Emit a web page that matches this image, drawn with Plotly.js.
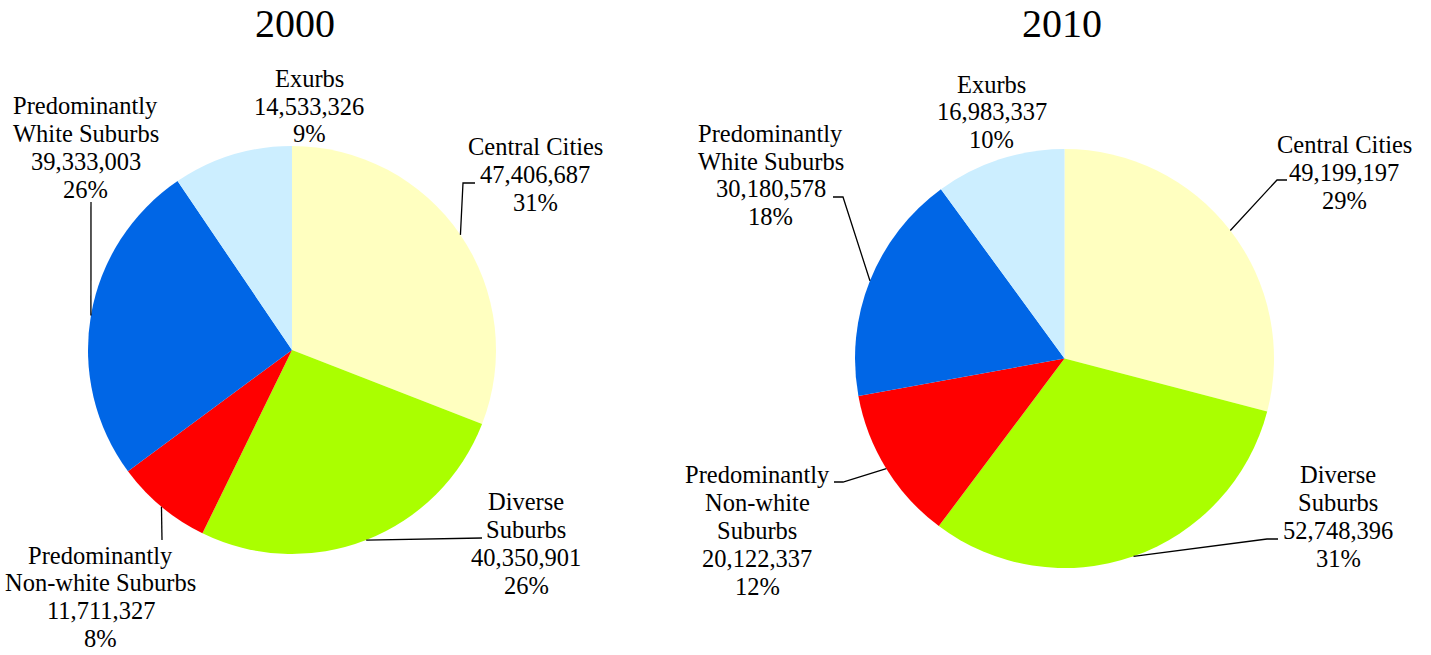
<!DOCTYPE html>
<html>
<head>
<meta charset="utf-8">
<script src="https://cdn.plot.ly/plotly-3.0.1.min.js"></script>
<style>html,body{margin:0;padding:0;background:#fff;}#chart{width:1431px;height:655px;}</style>
</head>
<body>
<div id="chart"></div>
<script>
// ---- data ----
const categories = ["Central Cities", "Diverse Suburbs", "Predominantly Non-white Suburbs", "Predominantly White Suburbs", "Exurbs"];
const years = ["2000", "2010"];
const values2000 = [47406687, 40350901, 11711327, 39333003, 14533326];
const values2010 = [49199197, 52748396, 20122337, 30180578, 16983337];
const colors = ["#FFFFC0", "#AAFF00", "#FF0000", "#0066E6", "#CCEEFF"];

// ---- layout config (pixels) ----
const W = 1431, H = 655;
const pies = [
  {cx: 292, cy: 350, r: 204, titleX: 295, titleBase: 37},
  {cx: 1064.5, cy: 358.5, r: 209.5, titleX: 1062, titleBase: 37}
];
// label line splits, label centre x, first baseline y, leader elbow points
const labelCfg = [
  [
    {lines: ["Central Cities"], x: 535, y: 155, elbow: [[463,183],[475,183]]},
    {lines: ["Diverse", "Suburbs"], x: 526, y: 510, elbow: [[482,538]]},
    {lines: ["Predominantly", "Non-white Suburbs"], x: 100.5, y: 563.5, elbow: [[162,540]]},
    {lines: ["Predominantly", "White Suburbs"], x: 85.5, y: 114.3, elbow: [[91,202]]},
    {lines: ["Exurbs"], x: 309, y: 86.7, elbow: null}
  ],
  [
    {lines: ["Central Cities"], x: 1344, y: 153.3, elbow: [[1277,180],[1287,180]]},
    {lines: ["Diverse", "Suburbs"], x: 1338, y: 483.3, elbow: [[1267,539],[1278,539]]},
    {lines: ["Predominantly", "Non-white", "Suburbs"], x: 757, y: 483.3, elbow: [[843,482],[834,482]]},
    {lines: ["Predominantly", "White Suburbs"], x: 770.7, y: 141.7, elbow: [[843,197],[833,197]]},
    {lines: ["Exurbs"], x: 992, y: 92.5, elbow: null}
  ]
];
const LINE_H = 27.8, FONT = "Liberation Serif, Times New Roman, serif", FS = 24.5;

const px = x => x / W;
const py = y => 1 - y / H;
const fmt = v => v.toString().replace(/\B(?=(\d{3})+(?!\d))/g, ",");

const allValues = [values2000, values2010];
const data = [];
const annotations = [];
const shapes = [];

pies.forEach((p, k) => {
  const vals = allValues[k];
  data.push({
    type: "pie",
    values: vals,
    labels: categories,
    sort: false,
    direction: "clockwise",
    rotation: 0,
    textinfo: "none",
    marker: {colors: colors, line: {width: 0}},
    showlegend: false,
    hovertemplate: "%{label}<br>%{value:,}<br>%{percent}<extra></extra>",
    domain: {x: [px(p.cx - p.r), px(p.cx + p.r)], y: [py(p.cy + p.r), py(p.cy - p.r)]}
  });
  annotations.push({
    text: years[k], x: px(p.titleX), y: py(p.titleBase - 13.5), xref: "paper", yref: "paper",
    xanchor: "center", yanchor: "middle", showarrow: false,
    font: {family: FONT, size: 40, color: "#000"}
  });
  const total = vals.reduce((a, b) => a + b, 0);
  let cum = 0;
  vals.forEach((v, i) => {
    const frac = v / total;
    const mid = (cum + frac / 2) * 2 * Math.PI;
    cum += frac;
    const cfg = labelCfg[k][i];
    const lines = cfg.lines.concat([fmt(v), Math.round(frac * 100) + "%"]);
    lines.forEach((t, j) => {
      annotations.push({
        text: t, x: px(cfg.x), y: py(cfg.y + j * LINE_H - 8.4), xref: "paper", yref: "paper",
        xanchor: "center", yanchor: "middle", showarrow: false,
        font: {family: FONT, size: FS, color: "#000"}
      });
    });
    if (cfg.elbow) {
      const ax = p.cx + p.r * Math.sin(mid);
      const ay = p.cy - p.r * Math.cos(mid);
      let path = "M" + px(ax) + "," + py(ay);
      cfg.elbow.forEach(pt => { path += " L" + px(pt[0]) + "," + py(pt[1]); });
      shapes.push({type: "path", xref: "paper", yref: "paper", path: path,
        line: {color: "#000", width: 1.3}});
    }
  });
});

const layout = {
  width: W, height: H,
  margin: {l: 0, r: 0, t: 0, b: 0},
  paper_bgcolor: "#fff", plot_bgcolor: "#fff",
  annotations: annotations,
  shapes: shapes,
  font: {family: FONT}
};
Plotly.newPlot("chart", data, layout, {displayModeBar: false, staticPlot: false});
</script>
</body>
</html>
